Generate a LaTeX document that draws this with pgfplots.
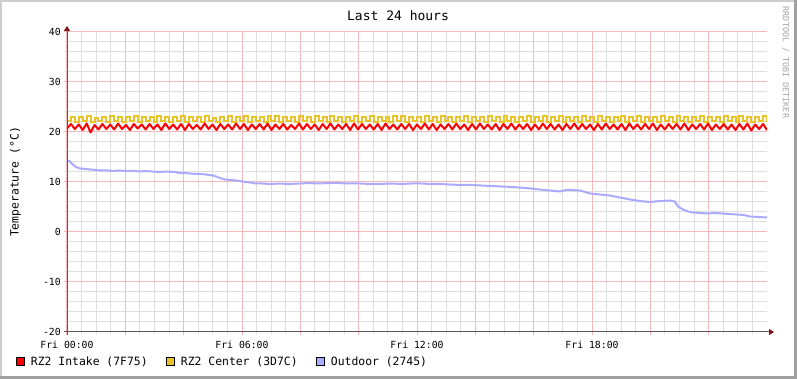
\documentclass[border=0pt]{standalone}
\usepackage{pgfplots}
\pgfplotsset{compat=1.18}
\usepackage{fontspec}
\setmainfont{DejaVu Sans Mono}
\usetikzlibrary{arrows.meta}
\definecolor{gridmajor}{RGB}{242,186,186}
\definecolor{gridminor}{RGB}{222,222,222}
\definecolor{axisgray}{RGB}{96,88,88}
\definecolor{arrowred}{RGB}{128,20,20}
\definecolor{shadea}{RGB}{205,205,205}
\definecolor{shadeb}{RGB}{160,160,160}
\definecolor{intake}{RGB}{255,0,0}
\definecolor{centercol}{RGB}{234,196,38}
\definecolor{outdoor}{RGB}{170,170,255}
\definecolor{wm}{RGB}{165,165,165}
\begin{document}
\begin{tikzpicture}
\fill[white] (-67pt,-47pt) rectangle (730pt,332pt);
\fill[shadea] (-67pt,330pt) rectangle (730pt,332pt);
\fill[shadea] (-67pt,-47pt) rectangle (-65pt,332pt);
\fill[shadeb] (727pt,-47pt) rectangle (730pt,332pt);
\fill[shadeb] (-67pt,-47pt) rectangle (730pt,-44pt);
\begin{axis}[
  scale only axis, width=700pt, height=300pt,
  xmin=0, xmax=24, ymin=-20, ymax=40,
  axis line style={draw=none},
  xtick={0,2,...,22},
  xticklabels={Fri 00:00,,,Fri 06:00,,,Fri 12:00,,,Fri 18:00,,},
  minor xtick={0.5,1,...,23.5},
  ytick={-20,-10,...,40},
  yticklabels={-20,-10,0,10,20,30,40},
  minor ytick={-18,-16,...,38},
  grid=both,
  major grid style={gridmajor, line width=1pt},
  minor grid style={gridminor, line width=1pt},
  tick pos=left, tick align=outside,
  major tick length=3pt, minor tick length=2pt,
  major tick style={gridmajor, line width=1pt},
  minor tick style={gridminor, line width=1pt},
  xticklabel style={font=\fontsize{9.8}{10}\selectfont, anchor=base, inner sep=0pt, yshift=-13.5pt},
  yticklabel style={font=\fontsize{9.8}{10}\selectfont, anchor=east, inner sep=0pt, xshift=-3pt},
  ylabel={Temperature (°C)},
  ylabel style={font=\fontsize{11.4}{12}\selectfont, at={(axis description cs:-0.0736,0.5)}, anchor=center},
  title={Last 24 hours},
  every axis title/.style={font=\fontsize{13}{14}\selectfont, at={(axis description cs:0.4729,1.0367)}, anchor=base},
  legend columns=3,
  legend cell align=left,
  legend style={draw=none, fill=none, inner sep=0pt, outer sep=0pt,
    nodes={inner sep=0pt},
    font=\fontsize{11.4}{12}\selectfont,
    at={(axis description cs:-0.07286,-0.0983)}, anchor=west,
    /tikz/every odd column/.append style={column sep=6.2pt},
    /tikz/every even column/.append style={column sep=18.3pt}},
]
\addlegendimage{legend image code/.code={\draw[black, fill=intake, line width=0.8pt] (0pt,-4pt) rectangle (8pt,4pt);}}
\addlegendentry{RZ2 Intake (7F75)}
\addlegendimage{legend image code/.code={\draw[black, fill=centercol, line width=0.8pt] (0pt,-4pt) rectangle (8pt,4pt);}}
\addlegendentry{RZ2 Center (3D7C)}
\addlegendimage{legend image code/.code={\draw[black, fill=outdoor, line width=0.8pt] (0pt,-4pt) rectangle (8pt,4pt);}}
\addlegendentry{Outdoor (2745)}

% RZ2 Center
\addplot[forget plot, const plot, centercol, line width=2pt] table[row sep=\\, header=false, x expr=\coordindex*0.13483, y index=0] {
22.1\\ 23.0\\ 22.0\\ 22.9\\ 22.1\\ 23.1\\ 22.0\\ 22.8\\ 22.1\\ 23.0\\ 22.0\\ 23.2\\ 22.1\\ 22.9\\ 22.0\\ 23.0\\ 22.2\\ 23.1\\ 22.0\\ 22.9\\
22.1\\ 23.0\\ 22.0\\ 23.1\\ 22.1\\ 22.9\\ 22.0\\ 23.0\\ 22.1\\ 23.2\\ 22.0\\ 22.9\\ 22.1\\ 23.0\\ 22.0\\ 23.1\\ 22.1\\ 22.8\\ 22.0\\ 23.0\\
22.1\\ 23.2\\ 22.0\\ 23.0\\ 22.1\\ 23.1\\ 22.0\\ 22.9\\ 22.1\\ 23.0\\ 22.0\\ 23.2\\ 22.1\\ 23.1\\ 22.0\\ 23.0\\ 22.1\\ 22.9\\ 22.0\\ 23.1\\
22.1\\ 23.0\\ 22.0\\ 23.2\\ 22.1\\ 23.0\\ 22.0\\ 23.1\\ 22.1\\ 22.9\\ 22.0\\ 23.0\\ 22.1\\ 23.2\\ 22.0\\ 23.0\\ 22.1\\ 23.1\\ 22.0\\ 22.9\\
22.1\\ 23.0\\ 22.0\\ 23.1\\ 22.1\\ 23.2\\ 22.0\\ 23.0\\ 22.1\\ 22.9\\ 22.0\\ 23.1\\ 22.1\\ 23.0\\ 22.0\\ 23.2\\ 22.1\\ 23.0\\ 22.0\\ 22.9\\
22.1\\ 23.1\\ 22.0\\ 23.0\\ 22.1\\ 22.9\\ 22.0\\ 23.2\\ 22.1\\ 23.0\\ 22.0\\ 23.1\\ 22.1\\ 23.0\\ 22.0\\ 22.9\\ 22.1\\ 23.1\\ 22.0\\ 23.0\\
22.1\\ 23.2\\ 22.0\\ 23.0\\ 22.1\\ 23.1\\ 22.0\\ 22.9\\ 22.1\\ 23.0\\ 22.0\\ 23.2\\ 22.1\\ 23.0\\ 22.0\\ 23.1\\ 22.1\\ 22.9\\ 22.0\\ 23.0\\
22.1\\ 23.1\\ 22.0\\ 23.0\\ 22.1\\ 23.2\\ 22.0\\ 22.9\\ 22.1\\ 23.0\\ 22.0\\ 23.1\\ 22.1\\ 23.0\\ 22.0\\ 23.2\\ 22.1\\ 22.9\\ 22.0\\ 23.0\\
22.1\\ 23.1\\ 22.0\\ 23.0\\ 22.1\\ 22.9\\ 22.0\\ 23.1\\ 22.1\\ 23.0\\ 22.0\\ 23.2\\ 22.1\\ 22.9\\ 22.0\\ 23.0\\ 22.1\\ 23.1\\ 22.0\\
};
% RZ2 Intake
\addplot[forget plot, sharp plot, intake, line width=2pt, line join=round] table[row sep=\\, header=false, x expr=\coordindex*0.13483, y index=0] {
20.7\\ 21.6\\ 20.6\\ 21.5\\ 20.4\\ 21.7\\ 19.9\\ 21.4\\ 20.5\\ 21.6\\ 20.6\\ 21.5\\ 20.5\\ 21.7\\ 20.6\\ 21.4\\ 20.4\\ 21.6\\ 20.7\\ 21.5\\
20.5\\ 21.6\\ 20.6\\ 21.5\\ 20.4\\ 21.7\\ 20.6\\ 21.5\\ 20.5\\ 21.6\\ 20.4\\ 21.6\\ 20.6\\ 21.4\\ 20.5\\ 21.7\\ 20.6\\ 21.5\\ 20.4\\ 21.6\\
20.6\\ 21.5\\ 20.5\\ 21.7\\ 20.6\\ 21.6\\ 20.4\\ 21.5\\ 20.6\\ 21.6\\ 20.5\\ 21.7\\ 20.4\\ 21.5\\ 20.6\\ 21.6\\ 20.5\\ 21.4\\ 20.6\\ 21.7\\
20.5\\ 21.6\\ 20.6\\ 21.5\\ 20.4\\ 21.6\\ 20.6\\ 21.7\\ 20.5\\ 21.5\\ 20.6\\ 21.6\\ 20.4\\ 21.7\\ 20.5\\ 21.6\\ 20.6\\ 21.5\\ 20.5\\ 21.6\\
20.4\\ 21.7\\ 20.6\\ 21.5\\ 20.5\\ 21.6\\ 20.6\\ 21.6\\ 20.4\\ 21.5\\ 20.6\\ 21.7\\ 20.5\\ 21.6\\ 20.4\\ 21.5\\ 20.6\\ 21.6\\ 20.5\\ 21.7\\
20.6\\ 21.5\\ 20.4\\ 21.6\\ 20.5\\ 21.7\\ 20.6\\ 21.5\\ 20.5\\ 21.6\\ 20.4\\ 21.6\\ 20.6\\ 21.7\\ 20.5\\ 21.5\\ 20.6\\ 21.6\\ 20.4\\ 21.5\\
20.5\\ 21.7\\ 20.6\\ 21.6\\ 20.5\\ 21.5\\ 20.4\\ 21.6\\ 20.6\\ 21.7\\ 20.5\\ 21.6\\ 20.6\\ 21.5\\ 20.4\\ 21.6\\ 20.5\\ 21.7\\ 20.6\\ 21.5\\
20.5\\ 21.6\\ 20.4\\ 21.7\\ 20.6\\ 21.5\\ 20.5\\ 21.6\\ 20.6\\ 21.7\\ 20.4\\ 21.5\\ 20.5\\ 21.6\\ 20.6\\ 21.6\\ 20.5\\ 21.7\\ 20.4\\ 21.5\\
20.6\\ 21.6\\ 20.5\\ 21.7\\ 20.4\\ 21.5\\ 20.6\\ 21.6\\ 20.5\\ 21.5\\ 20.4\\ 21.6\\ 20.5\\ 21.7\\ 20.3\\ 21.5\\ 20.6\\ 21.6\\ 20.4\\
};
% Outdoor
\addplot[forget plot, outdoor, line width=2pt] coordinates {
(0.00,14.4) (0.10,14.1) (0.20,13.5) (0.30,13.0) (0.45,12.7) (0.65,12.6)
(0.80,12.5) (1.00,12.4) (1.13,12.3) (1.40,12.3) (1.60,12.2) (1.80,12.3)
(2.00,12.2) (2.30,12.2) (2.50,12.1) (2.70,12.2) (2.90,12.1) (3.19,12.0)
(3.40,12.1) (3.70,12.0) (3.87,11.8) (4.05,11.8) (4.22,11.7) (4.40,11.6)
(4.56,11.6) (4.75,11.5) (4.90,11.4) (5.07,11.2) (5.24,10.8) (5.42,10.5)
(5.60,10.4) (5.76,10.3) (5.95,10.2) (6.10,10.0) (6.30,9.9) (6.44,9.7)
(6.70,9.7) (6.96,9.6) (7.30,9.7) (7.60,9.6) (7.99,9.7) (8.30,9.8)
(8.60,9.7) (9.02,9.8) (9.30,9.8) (9.60,9.7) (10.05,9.7) (10.40,9.6)
(10.73,9.6) (11.10,9.7) (11.50,9.6) (11.80,9.7) (12.14,9.7) (12.50,9.6)
(12.82,9.6) (13.10,9.5) (13.51,9.4) (13.90,9.4) (14.20,9.3) (14.54,9.2)
(14.90,9.1) (15.22,9.0) (15.50,8.9) (15.91,8.7) (16.20,8.5) (16.56,8.3)
(16.90,8.1) (17.10,8.4) (17.24,8.4) (17.59,8.3) (17.93,7.7) (18.27,7.5)
(18.61,7.3) (18.96,6.9) (19.30,6.5) (19.64,6.2) (19.98,6.0) (20.33,6.2)
(20.67,6.3) (20.84,6.1) (20.95,5.1) (21.12,4.5) (21.30,4.1) (21.46,3.9)
(21.70,3.8) (21.94,3.7) (22.20,3.8) (22.49,3.7) (22.70,3.6) (22.97,3.5)
(23.20,3.4) (23.41,3.1) (23.70,3.0) (24.00,2.9)
};
\end{axis}
\draw[axisgray, line width=1pt, -{Triangle[length=5pt,width=6pt,color=arrowred,fill=arrowred]}] (-3pt,0pt) -- (707pt,0pt);
\draw[axisgray, line width=1pt, -{Triangle[length=5pt,width=6pt,color=arrowred,fill=arrowred]}] (0pt,-3pt) -- (0pt,306pt);
\node[wm, rotate=-90, anchor=center, inner sep=0pt, font=\fontsize{8.4}{9}\selectfont] at (718.5pt,269.5pt) {RRDTOOL / TOBI OETIKER};
\pgfresetboundingbox
\useasboundingbox (-67pt,-47pt) rectangle (730pt,332pt);
\end{tikzpicture}
\end{document}
